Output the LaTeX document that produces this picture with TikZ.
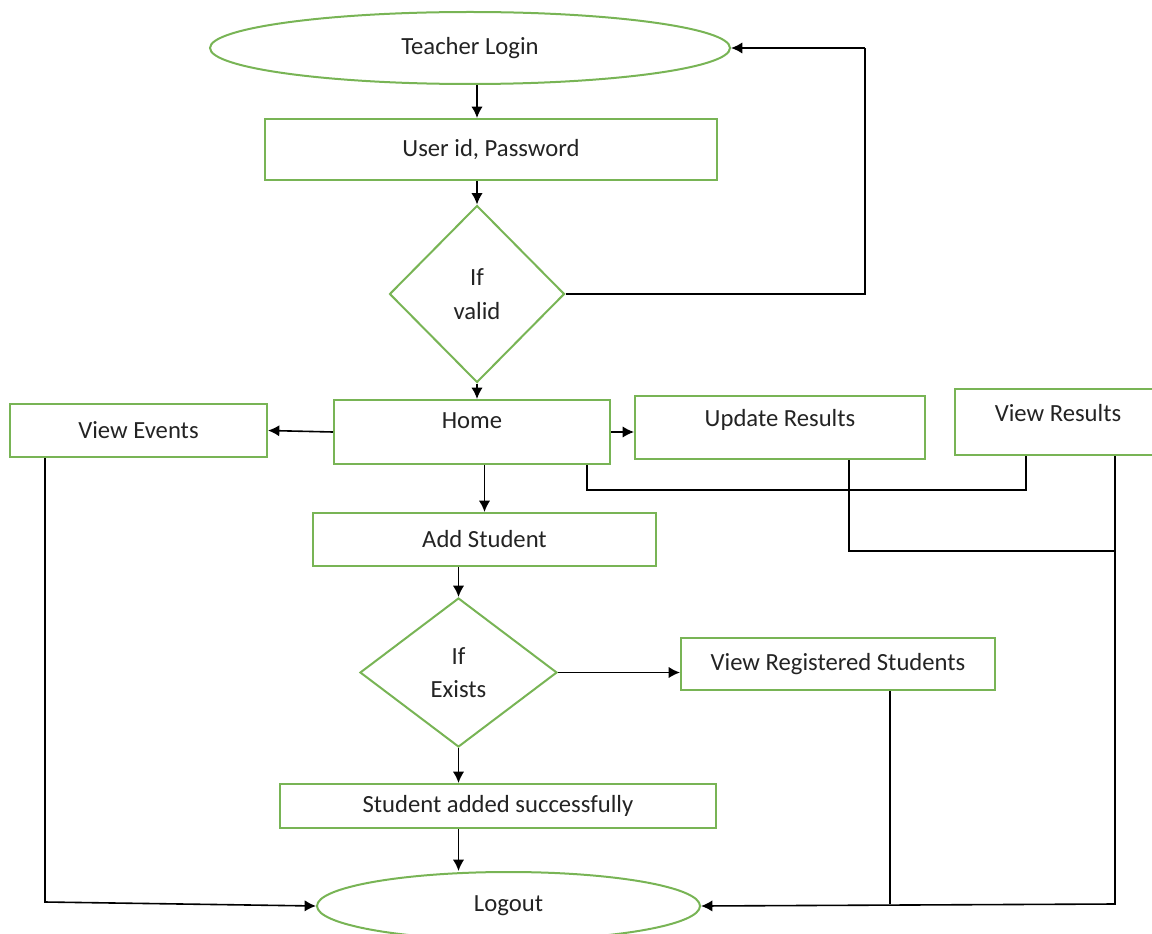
\documentclass[tikz,border=0pt]{standalone}
\usepackage{fontspec}
\setmainfont{Carlito}
\usetikzlibrary{shapes.geometric,arrows.meta}
\definecolor{boxgreen}{RGB}{120,180,85}
\definecolor{txt}{RGB}{35,35,35}
\begin{document}
\begin{tikzpicture}[x=0.75pt,y=-0.75pt,
  every node/.style={font=\fontsize{18.5}{24}\selectfont, text=txt, align=center, inner sep=0pt},
  procbox/.style={draw=boxgreen, line width=1.5pt, rectangle},
  oval/.style={draw=boxgreen, line width=1.5pt, ellipse},
  decide/.style={draw=boxgreen, line width=1.5pt, diamond},
  link/.style={draw=black, line width=1.2pt},
  arr/.style={link, -{Latex[length=8.5pt,width=8.5pt]}}]
\useasboundingbox (0,0) rectangle (1152,934);
\clip (0,0) rectangle (1152,934);

% shapes
\node[oval, minimum width=390pt, minimum height=54pt] (login) at (470,48) {Teacher Login};
\node[procbox, minimum width=339pt, minimum height=45.75pt] (cred) at (491,149.5) {User id, Password};
\node[decide, minimum width=131.25pt, minimum height=132.75pt] (valid) at (477,294) {If\\[1pt]valid};
\node[procbox, minimum width=207pt, minimum height=48pt, text depth=17pt] (home) at (472,432) {Home};
\node[procbox, minimum width=192.75pt, minimum height=39.75pt] (events) at (138.5,430.5) {View Events};
\node[procbox, minimum width=217.5pt, minimum height=47.25pt, text depth=14pt] (upd) at (780,427.5) {Update Results};
\node[procbox, minimum width=154.5pt, minimum height=49.5pt, text depth=14pt] (vres) at (1058,422) {View Results};
\node[procbox, minimum width=257.25pt, minimum height=39.75pt] (add) at (484.5,539.5) {Add Student};
\node[decide, minimum width=147.75pt, minimum height=111.75pt] (exists) at (458.5,672.5) {If\\[1pt]Exists};
\node[procbox, minimum width=235.5pt, minimum height=39pt] (vreg) at (838,664) {View Registered Students};
\node[procbox, minimum width=327pt, minimum height=33pt] (done) at (498,806) {Student added successfully};
\node[oval, minimum width=287.25pt, minimum height=51pt] (logout) at (508.5,906) {Logout};

% junction points of the connectors
\coordinate (backR) at (865,290);
\coordinate (homeJ) at (587,490);
\coordinate (vresJ) at (1026,490);
\coordinate (updJ) at (849,551);
\coordinate (vresK) at (1115,551);
\coordinate (outR) at (1115,904);
\coordinate (vregJ) at (890,904);
\coordinate (outL) at (45,902);

% main flow
\draw[arr] (login.south -| valid.north) -- (cred.north -| valid.north);
\draw[arr] (cred.south -| valid.north) -- (valid.north);
\draw[link] (valid.east) -- (valid.east -| backR) -- (backR |- login.east);
\draw[arr] (backR |- login.east) -- (login.east);
\draw[arr] (valid.south) -- (valid.south |- home.north);
\draw[arr] (home.west) -- (events.east);
\draw[arr] (home.east) -- (home.east -| upd.west);
\draw[arr] (home.south -| add.north) -- (add.north);
\draw[arr] (add.south -| exists.north) -- (exists.north);
\draw[arr] (exists.east) -- (exists.east -| vreg.west);
\draw[arr] (exists.south) -- (exists.south |- done.north);
\draw[arr] (exists.south |- done.south) -- (exists.south |- logout.north);

% return lines
\draw[link] (home.south -| homeJ) -- (homeJ) -- (vresJ) -- (vres.south -| vresJ);
\draw[link] (upd.south -| updJ) -- (updJ) -- (vresK);
\draw[arr] (vres.south -| outR) -- (outR) -- (logout.east);
\draw[link] (vreg.south -| vregJ) -- (vregJ);
\draw[arr] (events.south -| outL) -- (outL) -- (logout.west);
\end{tikzpicture}
\end{document}
